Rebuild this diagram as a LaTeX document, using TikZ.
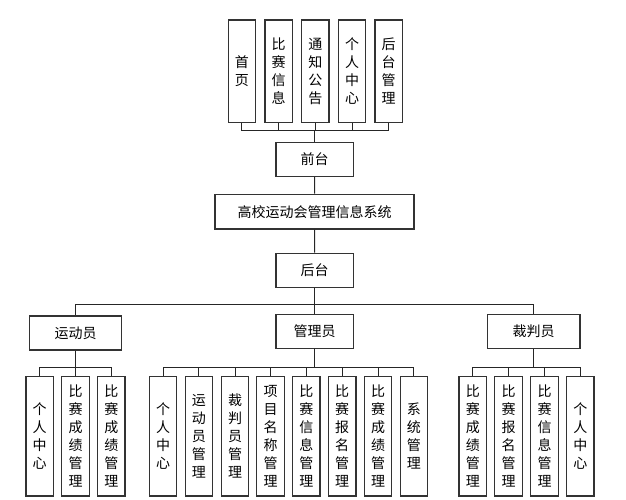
\documentclass[tikz,border=0pt]{standalone}
\usepackage{fontspec}
\newfontfamily\cjk{Noto Sans CJK SC}
\begin{document}
\begin{tikzpicture}[x=1pt,y=-1pt,
  box/.style={draw=black!80,line width=1.3pt,fill=white,inner sep=0pt,align=center,
    font=\cjk\fontsize{14}{18}\selectfont},
  hbox/.style={box,minimum width=77.3pt,minimum height=34pt},
  vbox/.style={box,minimum width=27.5pt,minimum height=102.3pt},
  lbox/.style={box,minimum width=27.5pt,minimum height=119.3pt},
  link/.style={draw=black!85,line width=1pt}]
\useasboundingbox (0,0) rectangle (626,499);
% top items
\node[vbox] (t1) at (241.9,71.2) {首\\页};
\node[vbox] (t2) at (278.6,71.2) {比\\赛\\信\\息};
\node[vbox] (t3) at (315.3,71.2) {通\\知\\公\\告};
\node[vbox] (t4) at (352.0,71.2) {个\\人\\中\\心};
\node[vbox] (t5) at (388.7,71.2) {后\\台\\管\\理};
\node[hbox] (qt) at (314.7,159.2) {前台};
\node[box,minimum width=199pt,minimum height=34.7pt] (sys) at (314.5,211.7) {高校运动会管理信息系统};
\node[hbox] (ht) at (314.7,270.3) {后台};
\node[hbox,minimum width=92.4pt] (ydy) at (75.5,332.9) {运动员};
\node[hbox] (gly) at (314.7,331.3) {管理员};
\node[hbox,minimum width=92.7pt] (cpy) at (533.6,331.7) {裁判员};
% athlete items
\node[lbox] (a1) at (39.7,436.4) {个\\人\\中\\心};
\node[lbox] (a2) at (75.5,436.4) {比\\赛\\成\\绩\\管\\理};
\node[lbox] (a3) at (111.3,436.4) {比\\赛\\成\\绩\\管\\理};
% admin items
\node[lbox] (m1) at (163.0,436.4) {个\\人\\中\\心};
\node[lbox] (m2) at (198.9,436.4) {运\\动\\员\\管\\理};
\node[lbox] (m3) at (235.0,436.4) {裁\\判\\员\\管\\理};
\node[lbox] (m4) at (270.5,436.4) {项\\目\\名\\称\\管\\理};
\node[lbox] (m5) at (306.3,436.4) {比\\赛\\信\\息\\管\\理};
\node[lbox] (m6) at (342.2,436.4) {比\\赛\\报\\名\\管\\理};
\node[lbox] (m7) at (378.0,436.4) {比\\赛\\成\\绩\\管\\理};
\node[lbox] (m8) at (413.9,436.4) {系\\统\\管\\理};
% referee items
\node[lbox] (r1) at (472.8,436.4) {比\\赛\\成\\绩\\管\\理};
\node[lbox] (r2) at (508.5,436.4) {比\\赛\\报\\名\\管\\理};
\node[lbox] (r3) at (544.5,436.4) {比\\赛\\信\\息\\管\\理};
\node[lbox] (r4) at (580.3,436.4) {个\\人\\中\\心};
% bus coordinates
\coordinate (busTop) at (0,130.7);
\coordinate (busMid) at (0,304.3);
\coordinate (busLow) at (0,367.7);
% connectors
\foreach \n in {t1,t2,t3,t4,t5}
  \draw[link] (\n.south) -- (\n.south |- busTop) -| (qt.north);
\draw[link] (qt.south) -- (sys.north);
\draw[link] (sys.south) -- (ht.north);
\foreach \n in {ydy,gly,cpy}
  \draw[link] (ht.south) -- (ht.south |- busMid) -| (\n.north);
\foreach \n in {a1,a2,a3}
  \draw[link] (ydy.south) -- (ydy.south |- busLow) -| (\n.north);
\foreach \n in {m1,m2,m3,m4,m5,m6,m7,m8}
  \draw[link] (gly.south) -- (gly.south |- busLow) -| (\n.north);
\foreach \n in {r1,r2,r3,r4}
  \draw[link] (cpy.south) -- (cpy.south |- busLow) -| (\n.north);
\end{tikzpicture}
\end{document}
